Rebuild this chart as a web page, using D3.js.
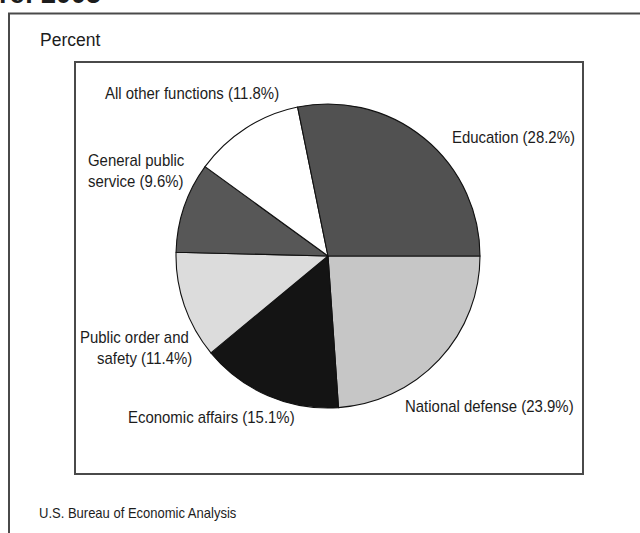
<!DOCTYPE html>
<html>
<head>
<meta charset="utf-8">
<script src="https://cdn.jsdelivr.net/npm/d3@7"></script>
<style>
  html, body { margin: 0; padding: 0; background: #fff; }
  svg { display: block; }
  text { font-family: "Liberation Sans", Arial, Helvetica, sans-serif; fill: #1c1c1c; }
</style>
</head>
<body>
<svg id="chart" width="640" height="533"></svg>
<script>
// Shares of spending by function, clockwise from 3 o'clock
const categories = [
  "National defense",
  "Economic affairs",
  "Public order and safety",
  "General public service",
  "All other functions",
  "Education"
];
const shares = [23.9, 15.1, 11.4, 9.6, 11.8, 28.2];
const fills = ["#c6c6c6", "#141414", "#dcdcdc", "#575757", "#ffffff", "#515151"];

// Label lines for each slice (multi-line where the label wraps)
const labelLines = [
  ["National defense (23.9%)"],
  ["Economic affairs (15.1%)"],
  ["Public order and", "safety (11.4%)"],
  ["General public", "service (9.6%)"],
  ["All other functions (11.8%)"],
  ["Education (28.2%)"]
];
// Start point (left edge, first baseline) of each label and per-line x offsets
const labelPos = [
  { x: 405, y: 412, dx: [0] },
  { x: 128, y: 423, dx: [0] },
  { x: 80,  y: 343, dx: [0, 17] },
  { x: 88,  y: 166, dx: [0, 0] },
  { x: 105, y: 98.5, dx: [0] },
  { x: 452, y: 143, dx: [0] }
];

const svg = d3.select("#chart");
const squeeze = 0.935; // narrow typeface

// Outer panel frame (top and left edges)
svg.append("path")
  .attr("d", "M9,533 V13.5 H640")
  .attr("fill", "none").attr("stroke", "#4a4a4a").attr("stroke-width", 2);

// Heading above the panel, running off the top edge
svg.append("text")
  .attr("x", -1).attr("y", 3)
  .attr("font-weight", "bold").attr("font-size", 27)
  .text("re: 2005");

svg.append("text")
  .attr("x", 40).attr("y", 45.5)
  .attr("font-size", 17.5)
  .text("Percent");

// Inner plot box
svg.append("rect")
  .attr("x", 75).attr("y", 62).attr("width", 508).attr("height", 412)
  .attr("fill", "none").attr("stroke", "#4a4a4a").attr("stroke-width", 2);

// Pie
const cx = 328, cy = 256, r = 152;
const pie = d3.pie().sort(null).value(d => d)
  .startAngle(Math.PI / 2).endAngle(Math.PI / 2 + 2 * Math.PI);
const arc = d3.arc().innerRadius(0).outerRadius(r);

const g = svg.append("g").attr("transform", `translate(${cx},${cy})`);
g.selectAll("path.slice")
  .data(pie(shares))
  .join("path")
  .attr("class", "slice")
  .attr("d", arc)
  .attr("fill", (d, i) => fills[i])
  .attr("stroke", "#111")
  .attr("stroke-width", 1.1)
  .attr("stroke-linejoin", "round");

// Slice labels
categories.forEach((name, i) => {
  const p = labelPos[i];
  labelLines[i].forEach((line, j) => {
    svg.append("text")
      .attr("transform", `translate(${p.x + p.dx[j]},${p.y + j * 20.5}) scale(${squeeze},1)`)
      .attr("font-size", 16)
      .text(line);
  });
});

// Source note
svg.append("text")
  .attr("transform", `translate(39,518) scale(0.93,1)`)
  .attr("font-size", 14)
  .text("U.S. Bureau of Economic Analysis");
</script>
</body>
</html>
